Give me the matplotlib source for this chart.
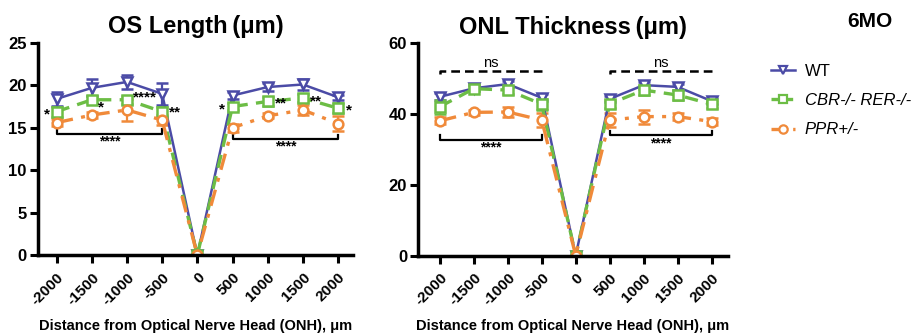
import matplotlib
matplotlib.use("Agg")
import matplotlib.pyplot as plt
from matplotlib.lines import Line2D

plt.rcParams['font.family'] = ['Liberation Sans', 'DejaVu Sans']

x = [-2000, -1500, -1000, -500, 0, 500, 1000, 1500, 2000]
xticklabels = ["-2000", "-1500", "-1000", "-500", "0", "500", "1000", "1500", "2000"]

groups = ["WT", "CBR-/- RER-/-", "PPR+/-"]

os_wt = [18.4, 19.7, 20.4, 19.0, 0, 18.8, 19.8, 20.1, 18.6]
os_wt_err = [0.8, 1.0, 0.8, 1.3, 0, 0.4, 0.5, 0.6, 0.3]
os_cbr = [16.9, 18.3, 18.3, 16.9, 0, 17.5, 18.1, 18.5, 17.3]
os_cbr_err = [0.6, 0.4, 0.5, 0.6, 0, 0.4, 0.5, 0.5, 0.6]
os_ppr = [15.6, 16.5, 17.1, 15.9, 0, 15.0, 16.4, 17.1, 15.5]
os_ppr_err = [0.4, 0.3, 1.3, 0.6, 0, 0.5, 0.3, 0.6, 0.9]

onl_wt = [44.9, 47.3, 48.5, 44.6, 0, 44.3, 48.2, 47.7, 43.7]
onl_wt_err = [1.0, 0.8, 0.8, 1.0, 0, 0.8, 1.0, 0.8, 0.8]
onl_cbr = [42.1, 47.2, 46.8, 42.8, 0, 42.9, 46.8, 45.4, 42.8]
onl_cbr_err = [2.0, 0.8, 1.0, 1.5, 0, 1.2, 1.5, 1.5, 1.0]
onl_ppr = [38.1, 40.5, 40.6, 38.3, 0, 38.3, 39.3, 39.3, 37.9]
onl_ppr_err = [1.0, 0.8, 1.5, 2.0, 0, 2.0, 2.0, 1.0, 1.0]

C_WT = "#4B4BA6"
C_CBR = "#6CBD45"
C_PPR = "#F08A3A"

fig = plt.figure(figsize=(9.19, 3.34), dpi=100)
ax1 = fig.add_axes([0.0413, 0.2365, 0.343, 0.635])
ax2 = fig.add_axes([0.455, 0.2350, 0.337, 0.635])

styles = [
    dict(color=C_WT, ls='-', marker='v', lw=1.8, dashes=None),
    dict(color=C_CBR, ls='--', marker='s', lw=2.4, dashes=(4, 2.5)),
    dict(color=C_PPR, ls='-.', marker='o', lw=2.4, dashes=(5, 2.5, 1.2, 2.5)),
]

def draw(ax, series, errs):
    for (y, e, st) in zip(series, errs, styles):
        kw = dict(color=st['color'], lw=st['lw'], marker=st['marker'], ms=7,
                  mfc='white', mec=st['color'], mew=1.8, capsize=4,
                  elinewidth=1.6, capthick=1.6, ecolor=st['color'])
        cont = ax.errorbar(x, y, yerr=e, **kw)
        line = cont[0]
        if st['dashes'] is not None:
            line.set_dashes(st['dashes'])

def style_axes(ax, ylim, yticks, xlim):
    ax.set_xlim(*xlim)
    ax.set_ylim(*ylim)
    ax.set_yticks(yticks)
    ax.set_xticks(x)
    ax.set_xticklabels(xticklabels, rotation=45, ha='right', rotation_mode='anchor',
                       fontsize=11, fontweight='bold')
    for lab in ax.get_yticklabels():
        lab.set_fontsize(12)
        lab.set_fontweight('bold')
    for s in ['top', 'right']:
        ax.spines[s].set_visible(False)
    for s in ['left', 'bottom']:
        ax.spines[s].set_linewidth(2.5)
    ax.tick_params(width=2.2, length=6, pad=2)
    ax.tick_params(axis='x', pad=5)
    ax.set_xlabel("Distance from Optical Nerve Head (ONH), μm", fontsize=10.5,
                  fontweight='bold', labelpad=8)

draw(ax1, [os_wt, os_cbr, os_ppr], [os_wt_err, os_cbr_err, os_ppr_err])
style_axes(ax1, (0, 25), [0, 5, 10, 15, 20, 25], (-2265, 2215))
ax1.set_title("OS Length\u2009(μm)", fontsize=17, fontweight='bold', pad=7)

draw(ax2, [onl_wt, onl_cbr, onl_ppr], [onl_wt_err, onl_cbr_err, onl_ppr_err])
style_axes(ax2, (0, 60), [0, 20, 40, 60], (-2320, 2240))
ax2.set_title("ONL Thickness\u2009(μm)", fontsize=17, fontweight='bold', pad=7)

def bracket(ax, x0, x1, y, h, text, ty, ls='-'):
    ax.plot([x0, x0, x1, x1], [y + h, y, y, y + h], color='black', lw=1.6,
            clip_on=False)
    ax.text((x0 + x1) / 2, ty, text, ha='center', va='center', fontsize=10,
            fontweight='bold')

bracket(ax1, -2000, -500, 14.3, 0.5, "****", 13.4)
bracket(ax1, 500, 2000, 13.7, 0.5, "****", 12.8)

star_kw = dict(fontsize=11, fontweight='bold', va='center')
ax1.text(-2100, 16.6, "*", ha='right', **star_kw)
ax1.text(-1410, 17.4, "*", ha='left', **star_kw)
ax1.text(-920, 18.6, "****", ha='left', **star_kw)
ax1.text(-400, 16.8, "**", ha='left', **star_kw)
ax1.text(400, 17.2, "*", ha='right', **star_kw)
ax1.text(1100, 17.9, "**", ha='left', **star_kw)
ax1.text(1600, 18.1, "**", ha='left', **star_kw)
ax1.text(2110, 17.0, "*", ha='left', **star_kw)

# ONL brackets
ax2.plot([-2000, -2000, -500, -500], [51.3, 52.2, 52.2, 51.3], color='black', lw=1.8,
         dashes=(3.5, 2))
ax2.plot([500, 500, 2000, 2000], [51.3, 52.2, 52.2, 51.3], color='black', lw=1.8,
         dashes=(3.5, 2))
ax2.text(-1250, 54.6, "ns", ha='center', va='center', fontsize=10.5)
ax2.text(1250, 54.6, "ns", ha='center', va='center', fontsize=10.5)
bracket(ax2, -2000, -500, 32.7, 1.4, "****", 30.6)
bracket(ax2, 500, 2000, 34.1, 1.2, "****", 31.8)

fig.text(0.9465, 0.937, "6MO", ha='center', va='center', fontsize=15, fontweight='bold')

handles = []
for st in styles:
    h = Line2D([0], [0], color=st['color'], lw=st['lw'], marker=st['marker'], ms=6,
               mfc='white', mec=st['color'], mew=1.6)
    if st['dashes'] is not None:
        h.set_dashes((2.5, 1.5) if st['ls'] == '--' else (2.5, 1.5, 1, 1.5))
    handles.append(h)
leg = fig.legend(handles, groups, loc='upper left', bbox_to_anchor=(0.834, 0.823),
                 frameon=False, fontsize=12, handlelength=1.4, handletextpad=0.6,
                 labelspacing=0.85, borderaxespad=0.0, borderpad=0.3)
for i, t in enumerate(leg.get_texts()):
    if i > 0:
        t.set_fontstyle('italic')

fig.savefig("out.png", dpi=100)
